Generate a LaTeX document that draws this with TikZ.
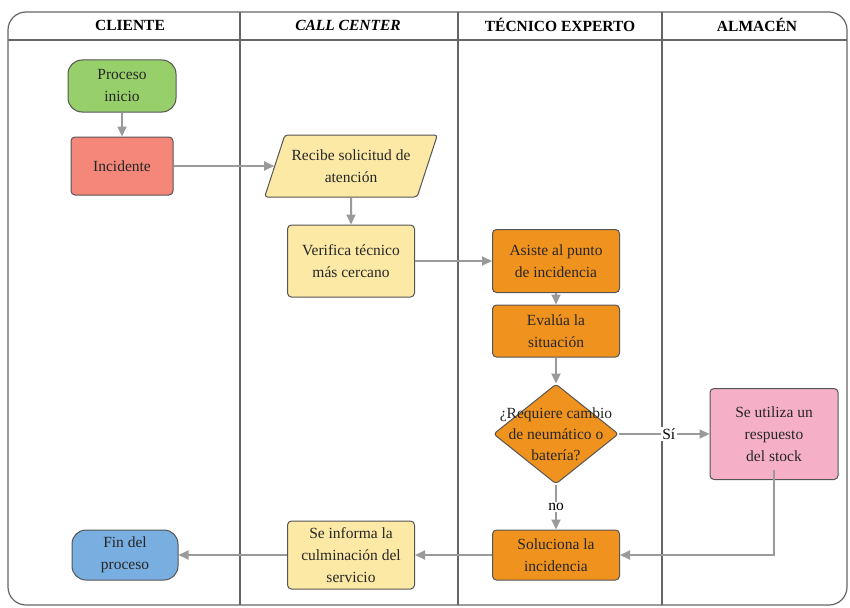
\documentclass[tikz,border=0pt]{standalone}
\usepackage{fontspec}
\setmainfont{Liberation Serif}
\usetikzlibrary{shapes.geometric,arrows.meta}

\definecolor{lanegray}{HTML}{666666}
\definecolor{arrowgray}{HTML}{9A9A9A}
\definecolor{inkgray}{HTML}{555555}
\definecolor{startgreen}{HTML}{97CF6A}
\definecolor{alertred}{HTML}{F4877A}
\definecolor{callyellow}{HTML}{FCE9A6}
\definecolor{techorange}{HTML}{F0921E}
\definecolor{stockpink}{HTML}{F5B0C8}
\definecolor{endblue}{HTML}{78AEE0}

\tikzset{
  box/.style={draw=inkgray, line width=1pt, rounded corners=4pt, align=center,
    text=black!85, inner sep=2pt, font=\fontsize{15.5}{22}\selectfont},
  terminal/.style={box, rounded corners=14pt},
  iobox/.style={box, trapezium, trapezium left angle=63, trapezium right angle=117,
    trapezium stretches=true, rounded corners=3pt},
  decision/.style={box, diamond, rounded corners=3pt, inner sep=0pt},
  flow/.style={draw=arrowgray, line width=2pt, -{Triangle[width=9pt,length=10pt]}},
  lanehead/.style={font=\fontsize{15.5}{18}\selectfont\bfseries},
  flowlabel/.style={fill=white, inner sep=1.5pt, font=\fontsize{15.5}{18}\selectfont}
}

\begin{document}
\begin{tikzpicture}[x=1pt,y=-1pt]
\useasboundingbox (0,0) rectangle (850,607);
% Draw the lanes
        \draw[lanegray, line width=1.2pt, rounded corners=18pt] (8,12) rectangle (847,605);
        \draw[lanegray, line width=1.2pt] (8,40) -- (847,40);
        \foreach \x in {240,458,662}
          \draw[lanegray, line width=1.2pt] (\x,12) -- (\x,605);
        \node[lanehead] (hcliente) at (130,25) {CLIENTE};
        \node[lanehead] (hcall) at (348,25) {\itshape CALL CENTER};
        \node[lanehead] (htecnico) at (560,25) {TÉCNICO EXPERTO};
        \node[lanehead] (halmacen) at (757,25) {ALMACÉN};

% Draw nodes
        \node[terminal, fill=startgreen, minimum width=108pt, minimum height=52pt]
          (inicio) at (122,86) {Proceso\\inicio};
        \node[box, fill=alertred, minimum width=102pt, minimum height=58pt]
          (incid) at (122,166) {Incidente};
        \node[iobox, fill=callyellow, minimum width=173pt, minimum height=62pt]
          (recibe) at (351,166) {Recibe solicitud de\\atención};
        \node[box, fill=callyellow, minimum width=127pt, minimum height=72pt]
          (verif) at (351,261) {Verifica técnico\\más cercano};
        \node[box, fill=techorange, minimum width=127pt, minimum height=63pt]
          (asiste) at (556,261) {Asiste al punto\\de incidencia};
        \node[box, fill=techorange, minimum width=127pt, minimum height=52pt]
          (evalua) at (556,331) {Evalúa la\\situación};
        \node[decision, fill=techorange, minimum width=125pt, minimum height=100pt]
          (decide) at (556,434) {};
        \node[align=center, text=black!85, font=\fontsize{15.5}{21}\selectfont]
          (decidetxt) at (decide) {¿Requiere cambio\\de neumático o\\batería?};
        \node[box, fill=stockpink, minimum width=128pt, minimum height=91pt]
          (stock) at (774,434) {Se utiliza un\\respuesto\\del stock};
        \node[box, fill=techorange, minimum width=127pt, minimum height=50pt]
          (soluc) at (556,555) {Soluciona la\\incidencia};
        \node[box, fill=callyellow, minimum width=127pt, minimum height=68pt]
          (informa) at (351,555) {Se informa la\\culminación del\\servicio};
        \node[terminal, fill=endblue, minimum width=106pt, minimum height=50pt]
          (fin) at (125,555) {Fin del\\proceso};

% Draw arrows
        \draw[flow] (inicio) -- (incid);
        \draw[flow] (incid) -- (recibe);
        \draw[flow] (recibe) -- (verif);
        \draw[flow] (verif) -- (asiste);
        \draw[flow] (asiste) -- (evalua);
        \draw[flow] (evalua) -- (decide);
        \draw[flow] (decide) -- node[flowlabel, pos=0.55] {Sí} (stock);
        \draw[flow] (decide) -- node[flowlabel] {no} (soluc);
        \draw[flow] (stock.south) ++(0,10pt) |- (soluc.east);
        \draw[flow] (soluc) -- (informa);
        \draw[flow] (informa) -- (fin);
\end{tikzpicture}
\end{document}
